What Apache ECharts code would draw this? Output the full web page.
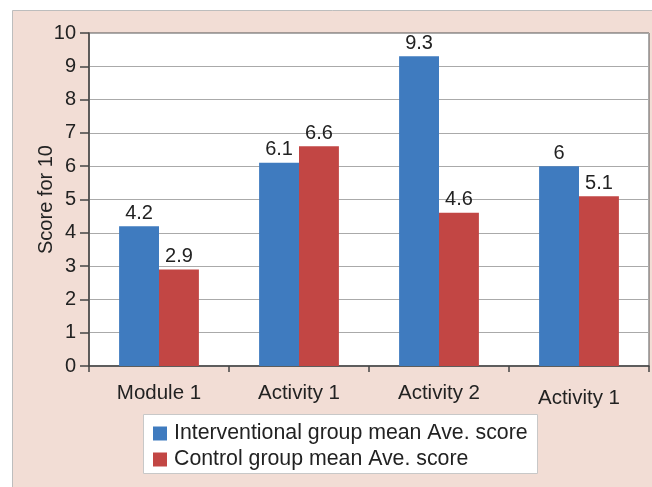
<!DOCTYPE html>
<html><head><meta charset="utf-8">
<script src="https://cdn.jsdelivr.net/npm/echarts@6/dist/echarts.min.js"></script>
<style>html,body{margin:0;padding:0;background:#fff}#c{width:652px;height:487px}</style>
</head><body><div id="c"></div>
<script>
const categories = ['Module 1', 'Activity 1', 'Activity 2', 'Activity 1'];
const interventional = [4.2, 6.1, 9.3, 6];
const control = [2.9, 6.6, 4.6, 5.1];
const seriesNames = ['Interventional group mean Ave. score', 'Control group mean Ave. score'];
const yTicks = [0, 1, 2, 3, 4, 5, 6, 7, 8, 9, 10];

const chart = echarts.init(document.getElementById('c'), null, {renderer: 'canvas'});
const font = 'Liberation Sans, Arial, sans-serif';
chart.setOption({
  backgroundColor: '#fff',
  animation: false,
  graphic: [
    {type: 'rect', z: -10, shape: {x: 12.5, y: 10.5, width: 700, height: 600},
     style: {fill: '#f2ddd5', stroke: '#bdbdbd', lineWidth: 1}},
    {type: 'rect', z: 10, shape: {x: 143.5, y: 414.5, width: 394, height: 59},
     style: {fill: '#fff', stroke: '#c8c8c8', lineWidth: 1}}
  ],
  grid: {left: 89, right: 3, top: 33, bottom: 121, show: true, backgroundColor: '#fff', borderColor: '#555', borderWidth: 1},
  legend: {
    left: 148, top: 418, orient: 'vertical', itemGap: 5, itemWidth: 14, itemHeight: 14,
    icon: 'rect', z: 20,
    textStyle: {fontSize: 21.3, color: '#222', fontFamily: font, padding: [0, 0, 0, 2]},
    data: seriesNames
  },
  xAxis: {
    type: 'category',
    data: categories.map((c, i) => i === 3 ? {value: c, textStyle: {padding: [5, 0, 0, 0]}} : c),
    axisLine: {lineStyle: {color: '#444', width: 1.5}},
    axisTick: {show: true, length: 6, lineStyle: {color: '#444', width: 1.5}},
    axisLabel: {fontSize: 20.5, color: '#222', fontFamily: font, margin: 17}
  },
  yAxis: {
    type: 'value', min: yTicks[0], max: yTicks[yTicks.length - 1], interval: 1,
    name: 'Score for 10', nameLocation: 'middle', nameGap: 33, nameMoveOverlap: false,
    nameTextStyle: {fontSize: 20, color: '#222', fontFamily: font},
    axisLine: {show: true, lineStyle: {color: '#444', width: 1.5}},
    axisTick: {show: true, length: 9, lineStyle: {color: '#444', width: 1.5}},
    axisLabel: {fontSize: 20, color: '#222', fontFamily: font, margin: 13},
    splitLine: {lineStyle: {color: '#aaa', width: 1}}
  },
  series: [
    {name: seriesNames[0], type: 'bar', data: interventional, barGap: '0%', barCategoryGap: '43%',
     itemStyle: {color: '#3f7bbf'},
     label: {show: true, position: 'top', fontSize: 20, color: '#222', fontFamily: font, distance: 3}},
    {name: seriesNames[1], type: 'bar', data: control,
     itemStyle: {color: '#c24644'},
     label: {show: true, position: 'top', fontSize: 20, color: '#222', fontFamily: font, distance: 3}}
  ]
});
</script></body></html>
